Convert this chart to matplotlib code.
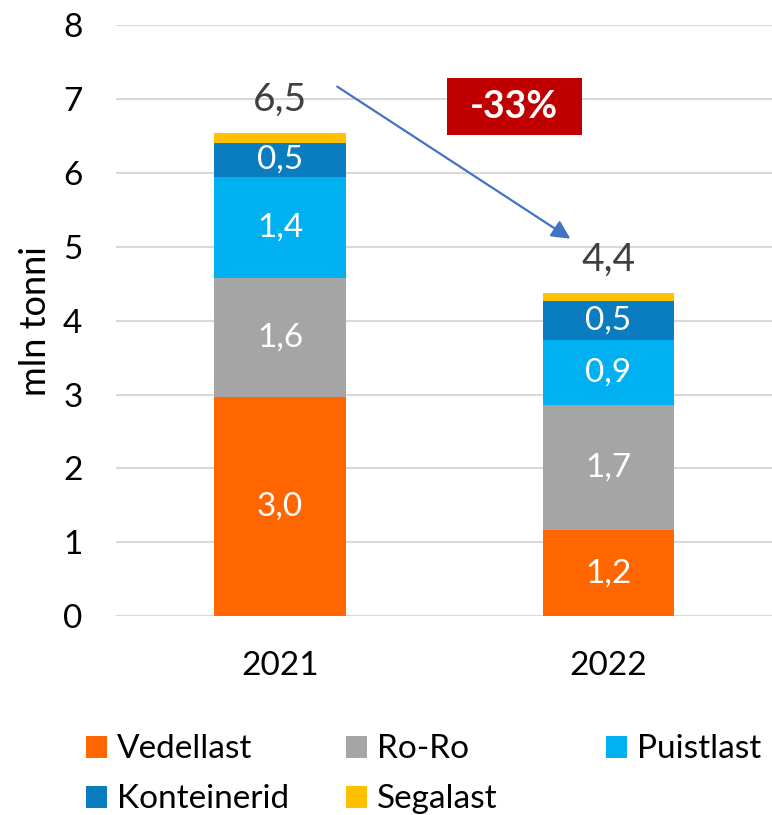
import matplotlib.pyplot as plt
from matplotlib.patches import Rectangle
import numpy as np

# data (mln tonni)
years = ["2021", "2022"]
categories = ["Vedellast", "Ro-Ro", "Puistlast", "Konteinerid", "Segalast"]
vedellast = [2.97, 1.16]
roro = [1.61, 1.70]
puistlast = [1.37, 0.88]
konteinerid = [0.46, 0.52]
segalast = [0.13, 0.11]
seg_labels = [["3,0", "1,6", "1,4", "0,5", ""], ["1,2", "1,7", "0,9", "0,5", ""]]
total_labels = ["6,5", "4,4"]
change_label = "-33%"

colors = ["#FF6600", "#A5A5A5", "#00B0F0", "#0A7DC0", "#FFC000"]

plt.rcParams['font.family'] = ['Lato', 'DejaVu Sans']

fig = plt.figure(figsize=(7.72, 8.15), dpi=100)
ax = fig.add_axes([0.150, 0.244, 0.851, 0.725])

series = [vedellast, roro, puistlast, konteinerid, segalast]
x = np.arange(len(years))
bottom = np.zeros(len(years))
handles = []
for i, (vals, col) in enumerate(zip(series, colors)):
    bars = ax.bar(x, vals, 0.4, bottom=bottom, color=col, label=categories[i], zorder=2)
    handles.append(bars)
    for j, b in enumerate(bars):
        txt = seg_labels[j][i]
        if txt:
            ax.text(b.get_x() + b.get_width() / 2, bottom[j] + vals[j] / 2, txt,
                    ha="center", va="center", color="white", fontsize=24)
    bottom += np.array(vals)

for j in range(len(years)):
    ax.text(x[j], bottom[j] + 0.45, total_labels[j], ha="center", va="center",
            color="#404040", fontsize=28)

# arrow between totals
ax.annotate("", xy=(0.891, 5.09), xytext=(0.167, 7.19),
            arrowprops=dict(arrowstyle="-|>", color="#4472C4", lw=1.6, mutation_scale=28))

# red change box
ax.add_patch(Rectangle((0.508, 6.52), 0.411, 0.76, fc="#C00000", ec="none", zorder=3))
ax.text(0.713, 6.90, change_label, ha="center", va="center", color="white",
        fontsize=27, fontweight="bold", zorder=4)

ax.set_xlim(-0.5, 1.5)
ax.set_ylim(0, 8)
ax.set_yticks(range(0, 9))
ax.set_xticks(x)
ax.set_xticklabels(years)
ax.tick_params(axis="both", length=0, labelsize=24)
ax.tick_params(axis="y", pad=24)
ax.tick_params(axis="x", pad=25)
ax.grid(axis="y", color="#D9D9D9", lw=1.5, zorder=0)
for s in ax.spines.values():
    s.set_visible(False)
ax.set_ylabel("mln tonni", fontsize=26, labelpad=8)

# legend in three fixed columns like the original
columns = [[0, 3], [1, 4], [2]]
col_x = [86, 346, 606]
for idx, cx in zip(columns, col_x):
    fig.legend([handles[k] for k in idx], [categories[k] for k in idx],
               loc="upper left", bbox_to_anchor=(cx / 772, 0.099), frameon=False,
               fontsize=24, handlelength=0.64, handleheight=0.64, handletextpad=0.3,
               labelspacing=0.6, borderpad=0, borderaxespad=0)

fig.savefig("out.png", dpi=100)
